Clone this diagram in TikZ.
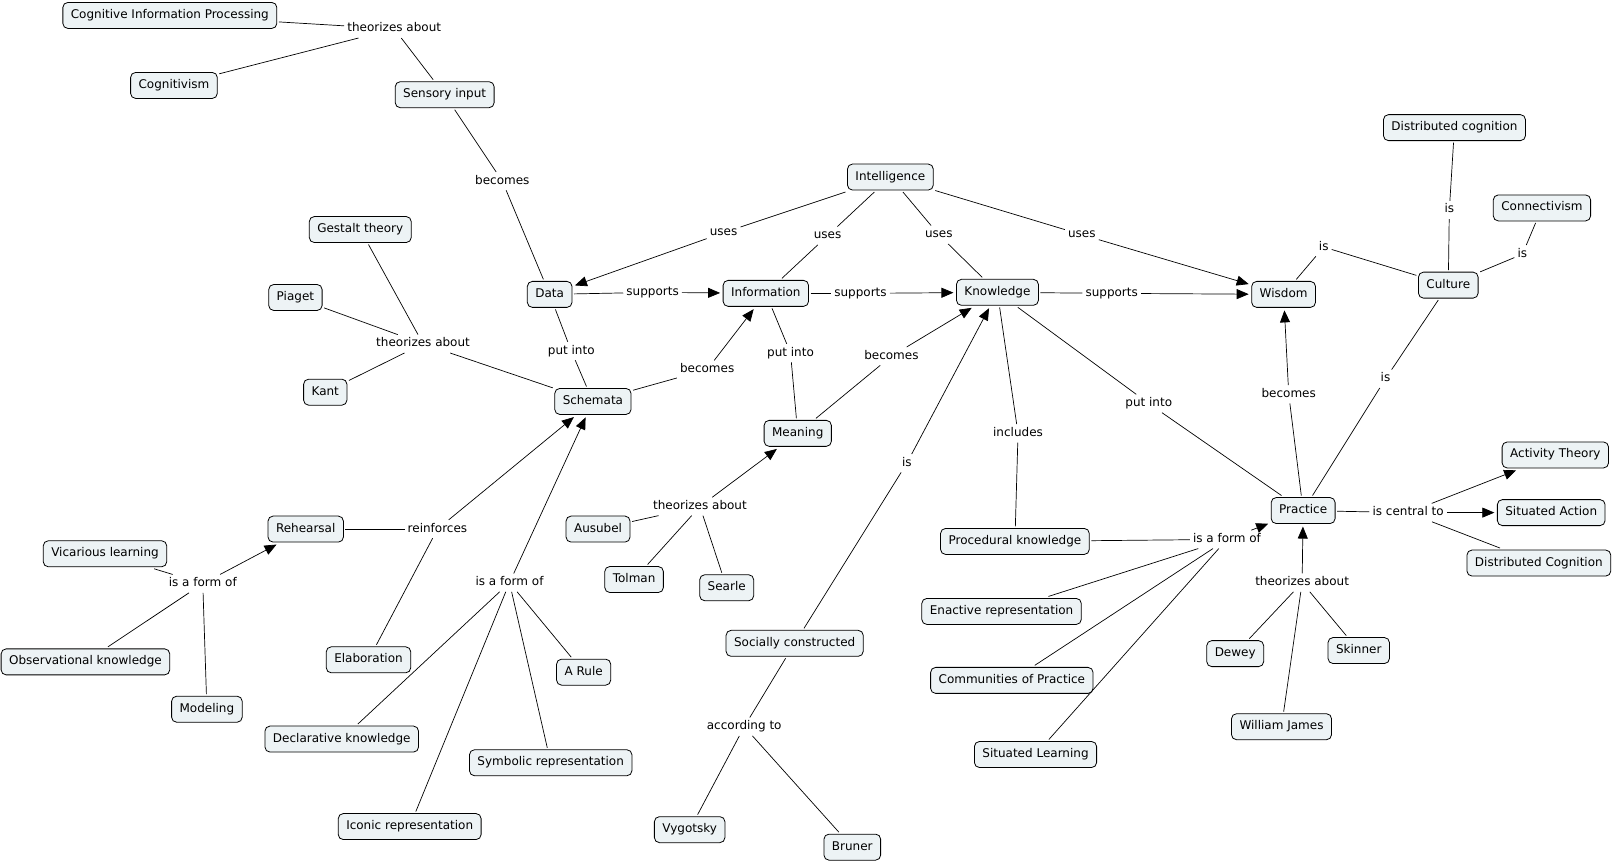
\documentclass[tikz,border=0pt]{standalone}
\usepackage{fontspec}
\setmainfont{DejaVu Sans}
\usetikzlibrary{arrows.meta}
\definecolor{cmapfill}{RGB}{237,243,245}

\begin{document}
\begin{tikzpicture}[x=1.0293pt,y=-1.0293pt,font=\fontsize{12}{14}\selectfont,
    concept/.style={draw,line width=0.8pt,rounded corners=5pt,fill=cmapfill,
      inner xsep=8pt,inner ysep=7pt,text height=9pt,text depth=3pt,outer sep=2pt},
    phrase/.style={inner sep=3pt,text height=9pt,text depth=3pt},
    link/.style={line width=0.7pt},
    arr/.style={link,-{Triangle[length=12pt,width=10pt]},shorten >=1pt}]
  \useasboundingbox (0,-1) rectangle (1568,835.5);

  \node[concept] (cip) at (165,14) {Cognitive Information Processing};
  \node[concept] (cogn) at (169,82) {Cognitivism};
  \node[concept] (sens) at (432,91) {Sensory input};
  \node[concept] (intel) at (865,171) {Intelligence};
  \node[concept] (dcog) at (1413,123) {Distributed cognition};
  \node[concept] (conn) at (1498,201) {Connectivism};
  \node[concept] (gest) at (350,222) {Gestalt theory};
  \node[concept] (piag) at (287,288) {Piaget};
  \node[concept] (kant) at (316,380) {Kant};
  \node[concept] (data) at (534,285) {Data};
  \node[concept] (info) at (744,284) {Information};
  \node[concept] (know) at (969,283) {Knowledge};
  \node[concept] (wis) at (1247,285) {Wisdom};
  \node[concept] (cult) at (1407,276) {Culture};
  \node[concept] (schem) at (576,389) {Schemata};
  \node[concept] (mean) at (775,420) {Meaning};
  \node[concept] (rehe) at (297,513) {Rehearsal};
  \node[concept] (vica) at (102,537) {Vicarious learning};
  \node[concept] (obse) at (83,642) {Observational knowledge};
  \node[concept] (mode) at (201,688) {Modeling};
  \node[concept] (elab) at (358,640) {Elaboration};
  \node[concept] (rule) at (567,652) {A Rule};
  \node[concept] (decl) at (332,717) {Declarative knowledge};
  \node[concept] (symb) at (535,740) {Symbolic representation};
  \node[concept] (icon) at (398,802) {Iconic representation};
  \node[concept] (ausu) at (581,513) {Ausubel};
  \node[concept] (tolm) at (616,562) {Tolman};
  \node[concept] (sear) at (706,570) {Searle};
  \node[concept] (soc) at (772,624) {Socially constructed};
  \node[concept] (vygo) at (670,805) {Vygotsky};
  \node[concept] (brun) at (828,822) {Bruner};
  \node[concept] (proc) at (986,525) {Procedural knowledge};
  \node[concept] (enac) at (973,593) {Enactive representation};
  \node[concept] (comm) at (983,660) {Communities of Practice};
  \node[concept] (situl) at (1006,732) {Situated Learning};
  \node[concept] (prac) at (1266,495) {Practice};
  \node[concept] (acti) at (1511,441) {Activity Theory};
  \node[concept] (situa) at (1507,497) {Situated Action};
  \node[concept] (dcogb) at (1495,546) {Distributed Cognition};
  \node[concept] (dewe) at (1200,634) {Dewey};
  \node[concept] (skin) at (1320,631) {Skinner};
  \node[concept] (wjam) at (1245,705) {William James};

  % linking phrases
  \node[phrase] (theoA) at (383,27) {theorizes about};
  \node[phrase] (becoA) at (488,175) {becomes};
  \node[phrase] (usesA) at (703,225) {uses};
  \node[phrase] (usesB) at (804,228) {uses};
  \node[phrase] (usesC) at (912,227) {uses};
  \node[phrase] (usesD) at (1051,227) {uses};
  \node[phrase] (suppA) at (634,283) {supports};
  \node[phrase] (suppB) at (836,284) {supports};
  \node[phrase] (suppC) at (1080,284) {supports};
  \node[phrase] (isA) at (1286,239) {is};
  \node[phrase] (isB) at (1408,203) {is};
  \node[phrase] (isC) at (1479,246) {is};
  \node[phrase] (theoB) at (411,333) {theorizes about};
  \node[phrase] (putA) at (555,340) {put into};
  \node[phrase] (becoB) at (687,358) {becomes};
  \node[phrase] (putB) at (768,342) {put into};
  \node[phrase] (becoC) at (866,345) {becomes};
  \node[phrase] (isD) at (881,449) {is};
  \node[phrase] (incl) at (989,420) {includes};
  \node[phrase] (putC) at (1116,391) {put into};
  \node[phrase] (becoD) at (1252,382) {becomes};
  \node[phrase] (isE) at (1346,367) {is};
  \node[phrase] (cent) at (1368,497) {is central to};
  \node[phrase] (formC) at (1192,523) {is a form of};
  \node[phrase] (theoD) at (1265,565) {theorizes about};
  \node[phrase] (theoC) at (680,491) {theorizes about};
  \node[phrase] (rein) at (425,513) {reinforces};
  \node[phrase] (formA) at (197,566) {is a form of};
  \node[phrase] (formB) at (495,565) {is a form of};
  \node[phrase] (acco) at (723,705) {according to};

  \draw[link] (cip) -- (theoA);
  \draw[link] (cogn) -- (theoA);
  \draw[link] (theoA) -- (sens);
  \draw[link] (sens) -- (becoA) -- (data);

  \draw[link] (intel) -- (usesA);
  \draw[arr] (usesA) -- (data);
  \draw[link] (intel) -- (usesB) -- (info);
  \draw[link] (intel) -- (usesC) -- (know);
  \draw[link] (intel) -- (usesD);
  \draw[arr] (usesD) -- (wis);

  \draw[link] (data) -- (suppA);
  \draw[arr] (suppA) -- (info);
  \draw[link] (info) -- (suppB);
  \draw[arr] (suppB) -- (know);
  \draw[link] (know) -- (suppC);
  \draw[arr] (suppC) -- (wis);

  \draw[link] (wis) -- (isA) -- (cult);
  \draw[link] (cult) -- (isB) -- (dcog);
  \draw[link] (cult) -- (isC) -- (conn);

  \draw[link] (gest) -- (theoB);
  \draw[link] (piag) -- (theoB);
  \draw[link] (kant) -- (theoB);
  \draw[link] (theoB) -- (schem);
  \draw[link] (data) -- (putA) -- (schem);
  \draw[link] (schem) -- (becoB);
  \draw[arr] (becoB) -- (info);
  \draw[link] (info) -- (putB) -- (mean);
  \draw[link] (mean) -- (becoC);
  \draw[arr] (becoC) -- (know);

  \draw[link] (soc) -- (isD);
  \draw[arr] (isD) -- (know);
  \draw[link] (know) -- (incl) -- (proc);
  \draw[link] (know) -- (putC) -- (prac);
  \draw[link] (prac) -- (becoD);
  \draw[arr] (becoD) -- (wis);
  \draw[link] (prac) -- (isE) -- (cult);

  \draw[link] (prac) -- (cent);
  \draw[arr] (cent) -- (acti);
  \draw[arr] (cent) -- (situa);
  \draw[link] (cent) -- (dcogb);

  \draw[link] (proc) -- (formC);
  \draw[link] (enac) -- (formC);
  \draw[link] (comm) -- (formC);
  \draw[link] (situl) -- (formC);
  \draw[arr] (formC) -- (prac);

  \draw[link] (dewe) -- (theoD);
  \draw[link] (skin) -- (theoD);
  \draw[link] (wjam) -- (theoD);
  \draw[arr] (theoD) -- (prac);

  \draw[link] (ausu) -- (theoC);
  \draw[link] (tolm) -- (theoC);
  \draw[link] (sear) -- (theoC);
  \draw[arr] (theoC) -- (mean);

  \draw[link] (rehe) -- (rein);
  \draw[link] (elab) -- (rein);
  \draw[arr] (rein) -- (schem);

  \draw[link] (vica) -- (formA);
  \draw[link] (obse) -- (formA);
  \draw[link] (mode) -- (formA);
  \draw[arr] (formA) -- (rehe);

  \draw[link] (decl) -- (formB);
  \draw[link] (icon) -- (formB);
  \draw[link] (symb) -- (formB);
  \draw[link] (rule) -- (formB);
  \draw[arr] (formB) -- (schem);

  \draw[link] (soc) -- (acco) -- (vygo);
  \draw[link] (acco) -- (brun);
\end{tikzpicture}
\end{document}
